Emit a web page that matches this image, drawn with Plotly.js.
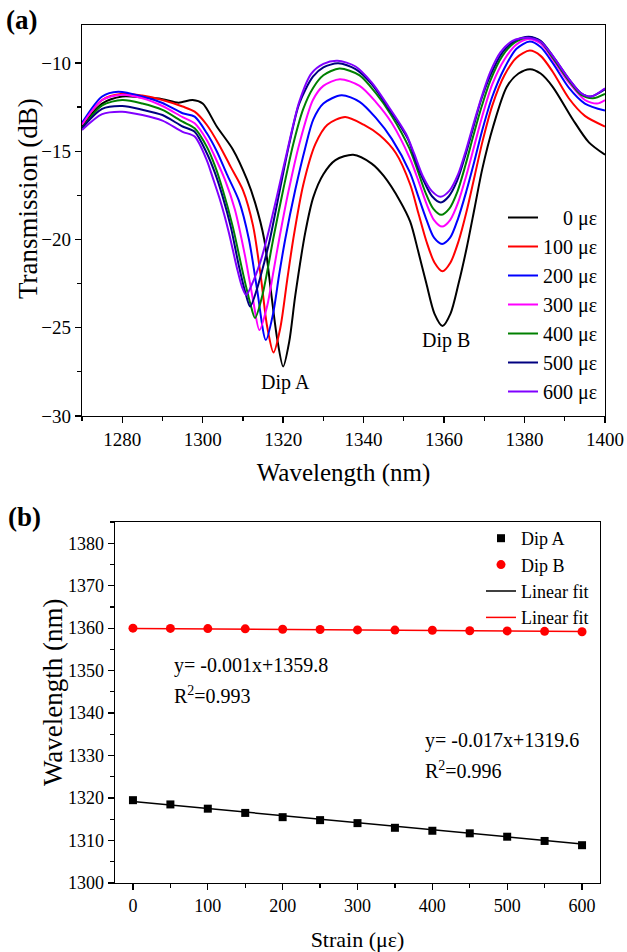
<!DOCTYPE html>
<html>
<head>
<meta charset="utf-8">
<script src="https://cdn.plot.ly/plotly-3.0.1.min.js"></script>
<style>html,body{margin:0;padding:0;background:#fff;}#chart{width:627px;height:952px;}</style>
</head>
<body>
<div id="chart"></div>
<script>
// ---------- Panel (a): transmission spectra ----------
const strainLabels = ["0 με", "100 με", "200 με", "300 με", "400 με", "500 με", "600 με"];
const spectraColors = ["#000000", "#ff0000", "#0000ff", "#ff00ff", "#008000", "#000080", "#8000ff"];

const wl0 = [1270,1275,1280,1285,1290,1294,1297.5,1300,1303.5,1307.5,1311,1313,1315.3,1317,1318.5,1320,1321.5,1323,1325.5,1327.5,1330,1333,1337.4,1342,1345,1349,1351.6,1353.6,1355.6,1357.6,1359.6,1361.6,1363.6,1365.6,1367.6,1369.5,1372.2,1375.6,1378.5,1381.4,1384,1387,1392,1396,1400];
const t0  = [-13.6,-12.3,-11.9,-11.95,-12.05,-12.25,-12.1,-12.3,-13.6,-14.9,-16.6,-17.9,-20.0,-23.0,-25.6,-27.2,-25.8,-23.2,-19.6,-17.6,-16.3,-15.5,-15.2,-15.7,-16.4,-17.8,-19.0,-20.7,-22.5,-24.2,-24.9,-24.2,-22.5,-20.5,-18.2,-16.0,-13.6,-11.35,-10.6,-10.35,-10.6,-11.35,-13.2,-14.5,-15.2];

const wl1 = [1270,1275,1280,1285,1290,1295,1298,1301,1304,1307,1310,1312.5,1314.5,1316,1317.6,1319.3,1321,1322.5,1325,1328,1331,1335.4,1340,1344,1348,1351.6,1353.6,1355.6,1357.6,1359.6,1361.6,1363.6,1365.6,1367.6,1369.6,1372,1375,1378,1381.3,1384,1387,1391,1395,1400];
const t1  = [-13.5,-12.1,-11.75,-11.85,-12.1,-12.47,-12.76,-13.5,-14.6,-15.9,-17.2,-19.2,-22.2,-24.9,-26.4,-25.0,-22.3,-20.0,-16.9,-14.6,-13.5,-13.06,-13.5,-14.1,-15.1,-16.9,-18.5,-20.1,-21.3,-21.8,-21.3,-20.1,-18.4,-16.4,-14.4,-12.4,-10.7,-9.7,-9.3,-9.6,-10.5,-12.0,-13.0,-13.6];

const wl2 = [1270,1275,1279,1285,1290,1295,1298,1301,1303.5,1306,1309,1311.5,1313.5,1315.7,1317.5,1319,1320.5,1323,1325.5,1327.5,1330,1334.5,1339,1343,1347,1351.5,1353.5,1355.5,1357.5,1359.5,1361.5,1363.5,1365.5,1367.5,1369.5,1372,1375,1378,1381.3,1384,1387,1391,1395,1400];
const t2  = [-13.4,-11.9,-11.63,-11.9,-12.27,-12.85,-13.04,-13.97,-15.0,-16.3,-17.8,-20.0,-22.8,-25.7,-24.2,-22.0,-20.0,-17.2,-14.8,-13.2,-12.3,-11.83,-12.2,-13.1,-14.3,-16.2,-17.5,-18.8,-19.9,-20.25,-19.9,-18.8,-17.3,-15.6,-13.8,-11.9,-10.3,-9.2,-8.79,-9.1,-10.0,-11.4,-12.3,-12.7];

const wl3 = [1270,1275,1280,1285,1290,1295,1298,1301,1303,1305.5,1308,1310.5,1312.5,1314.1,1316,1317.6,1319,1321.3,1324,1327.4,1330,1334.1,1339,1343,1347,1351.5,1353.5,1355.5,1357.5,1359.5,1361.5,1363.5,1365.5,1367.5,1369.5,1372,1375,1378,1381,1384,1387,1391,1395,1398,1400];
const t3  = [-13.5,-12.1,-11.8,-12.0,-12.44,-13.07,-13.42,-14.36,-15.3,-16.6,-18.3,-20.9,-23.4,-25.13,-23.8,-21.8,-20.0,-17.3,-14.6,-12.1,-11.3,-10.92,-11.3,-12.2,-13.4,-15.4,-16.6,-17.9,-18.9,-19.27,-18.9,-17.9,-16.4,-14.7,-13.0,-11.2,-9.8,-8.95,-8.64,-8.9,-9.8,-11.1,-12.1,-12.3,-12.1];

const wl4 = [1270,1275,1280,1285,1290,1295,1298,1301,1303,1305,1307.5,1310,1311.8,1313,1314.8,1316.3,1317.5,1320,1322.5,1325,1327.4,1330,1334,1339,1343,1347,1351.3,1353.3,1355.3,1357.3,1359.3,1361.3,1363.3,1365.3,1367.3,1369.3,1371.5,1374.5,1377.5,1381,1384,1387,1391,1394,1397,1400];
const t4  = [-13.7,-12.4,-12.1,-12.3,-12.66,-13.33,-13.7,-14.74,-15.8,-17.2,-19.3,-21.9,-23.6,-24.45,-23.2,-21.5,-20.0,-17.2,-14.6,-12.6,-11.43,-10.7,-10.32,-10.7,-11.7,-13.0,-14.8,-16.0,-17.3,-18.25,-18.6,-18.25,-17.3,-15.8,-14.1,-12.5,-11.0,-9.6,-8.85,-8.55,-8.8,-9.7,-11.0,-11.8,-12.0,-11.75];

const wl5 = [1270,1275,1280,1285,1290,1295,1298,1301,1303,1305,1307,1309,1310.6,1311.8,1313.5,1315.3,1316.7,1319,1321.5,1324,1327.4,1330,1333.7,1338,1342,1346,1351,1353,1355,1357,1359.2,1361.2,1363.2,1365.2,1367.2,1369.2,1371.5,1374.5,1377.5,1381,1384,1387,1391,1394,1396.5,1400];
const t5  = [-13.7,-12.6,-12.44,-12.65,-12.95,-13.6,-13.9,-15.1,-16.2,-17.6,-19.3,-21.5,-23.0,-23.8,-22.8,-21.3,-20.0,-17.4,-14.6,-12.3,-10.78,-10.25,-10.02,-10.35,-11.2,-12.5,-14.3,-15.6,-16.7,-17.55,-17.9,-17.55,-16.7,-15.3,-13.7,-12.1,-10.7,-9.4,-8.75,-8.51,-8.75,-9.6,-10.9,-11.7,-11.9,-11.5];

const wl6 = [1270,1275,1280,1285,1290,1295,1298,1301,1302.5,1304.5,1306.5,1308.5,1309.8,1310.8,1312.5,1314.3,1316,1318.4,1321,1324,1327,1330,1333.5,1338,1342,1346,1350.5,1352.5,1354.7,1356.9,1359.1,1361.3,1363.5,1365.5,1367.5,1369.5,1371.5,1374,1377,1380.7,1384,1387,1391,1394,1396.5,1400];
const t6  = [-13.8,-12.9,-12.76,-12.95,-13.27,-13.9,-14.17,-15.5,-16.5,-17.9,-19.6,-21.6,-22.7,-23.15,-22.4,-21.3,-19.9,-17.6,-15.0,-12.2,-10.6,-10.05,-9.87,-10.2,-11.1,-12.4,-14.0,-15.1,-16.4,-17.25,-17.58,-17.25,-16.3,-14.9,-13.3,-11.8,-10.5,-9.4,-8.75,-8.57,-8.8,-9.6,-10.9,-11.7,-11.9,-11.43];

const spectraX = [wl0, wl1, wl2, wl3, wl4, wl5, wl6];
const spectraY = [t0, t1, t2, t3, t4, t5, t6];

// ---------- Panel (b): dip wavelength vs strain ----------
const strain = [0,50,100,150,200,250,300,350,400,450,500,550,600];
const dipA = [1319.5,1318.5,1317.5,1316.5,1315.5,1314.8,1314.1,1313.0,1312.3,1311.7,1310.9,1309.9,1308.9];
const dipB = [1360.0,1359.95,1359.9,1359.85,1359.75,1359.7,1359.6,1359.55,1359.5,1359.4,1359.35,1359.25,1359.15];
const fitX = [0, 600];
const fitA = [1319.2, 1309.2];
const fitB = [1359.95, 1359.2];

const serif = "Liberation Serif, Times New Roman, serif";
const W = 627, H = 952;
const traces = [];

for (let i = 0; i < spectraX.length; i++) {
  const pad = strainLabels[i].length < 5 ? "\u00A0\u00A0\u00A0\u00A0" : "";
  traces.push({
    x: spectraX[i], y: spectraY[i], type: "scatter", mode: "lines",
    name: pad + strainLabels[i],
    line: {color: spectraColors[i], width: 2, shape: "spline", smoothing: 0.8},
    xaxis: "x", yaxis: "y", legend: "legend"
  });
}

traces.push({x: strain, y: dipA, type: "scatter", mode: "markers", name: "Dip A",
  marker: {symbol: "square", size: 8, color: "#000000"}, xaxis: "x2", yaxis: "y2", legend: "legend2"});
traces.push({x: strain, y: dipB, type: "scatter", mode: "markers", name: "Dip B",
  marker: {symbol: "circle", size: 9, color: "#ff0000"}, xaxis: "x2", yaxis: "y2", legend: "legend2"});
traces.push({x: fitX, y: fitA, type: "scatter", mode: "lines", name: "Linear fit",
  line: {color: "#000000", width: 1.5}, xaxis: "x2", yaxis: "y2", legend: "legend2"});
traces.push({x: fitX, y: fitB, type: "scatter", mode: "lines", name: "Linear fit",
  line: {color: "#ff0000", width: 1.5}, xaxis: "x2", yaxis: "y2", legend: "legend2"});

function px2x(p) { return p / W; }
function px2y(p) { return 1 - p / H; }

const axisCommon = {
  showline: true, linecolor: "#000", linewidth: 1.3, mirror: true,
  ticks: "outside", ticklen: 6, tickwidth: 1.3, tickcolor: "#000",
  showgrid: false, zeroline: false, automargin: false,
  tickfont: {family: serif, size: 19, color: "#000"}
};

const layout = {
  width: W, height: H,
  margin: {l: 0, r: 0, t: 0, b: 0},
  paper_bgcolor: "#fff", plot_bgcolor: "#fff",
  font: {family: serif, color: "#000"},
  showlegend: true,
  xaxis: Object.assign({}, axisCommon, {
    domain: [px2x(82), px2x(605)], anchor: "y",
    range: [1270, 1400], tickvals: [1280,1300,1320,1340,1360,1380,1400],
    minor: {dtick: 10, tick0: 1270, ticks: "outside", ticklen: 3.5, tickcolor: "#000", tickwidth: 1.2},
    title: {text: "Wavelength (nm)", font: {family: serif, size: 25, color: "#000"}, standoff: 14}
  }),
  yaxis: Object.assign({}, axisCommon, {
    domain: [px2y(416), px2y(25)], anchor: "x",
    range: [-30, -7.85], tickvals: [-30,-25,-20,-15,-10],
    minor: {dtick: 2.5, tick0: -30, ticks: "outside", ticklen: 3.5, tickcolor: "#000", tickwidth: 1.2}
  }),
  xaxis2: Object.assign({}, axisCommon, {
    domain: [px2x(115), px2x(600)], anchor: "y2",
    range: [-24, 624], tickvals: [0,100,200,300,400,500,600],
    tickfont: {family: serif, size: 18, color: "#000"},
    minor: {dtick: 50, tick0: 0, ticks: "outside", ticklen: 3.5, tickcolor: "#000", tickwidth: 1.2},
    title: {text: "Strain (με)", font: {family: serif, size: 22, color: "#000"}, standoff: 18}
  }),
  yaxis2: Object.assign({}, axisCommon, {
    domain: [px2y(883), px2y(522)], anchor: "x2",
    range: [1300, 1385], tickvals: [1300,1310,1320,1330,1340,1350,1360,1370,1380],
    tickfont: {family: serif, size: 18, color: "#000"},
    minor: {dtick: 5, tick0: 1300, ticks: "outside", ticklen: 3.5, tickcolor: "#000", tickwidth: 1.2}
  }),
  legend: {
    x: px2x(603), xanchor: "right", y: px2y(198), yanchor: "top",
    bgcolor: "rgba(0,0,0,0)", borderwidth: 0,
    font: {family: serif, size: 20, color: "#000"}, itemwidth: 30
  },
  legend2: {
    x: px2x(594), xanchor: "right", y: px2y(520), yanchor: "top",
    bgcolor: "rgba(0,0,0,0)", borderwidth: 0,
    font: {family: serif, size: 18, color: "#000"}, itemwidth: 30
  },
  annotations: [
    {text: "<b>(a)</b>", xref: "paper", yref: "paper", x: px2x(4), y: px2y(20), xanchor: "left", yanchor: "middle",
     showarrow: false, font: {family: serif, size: 27, color: "#000"}},
    {text: "<b>(b)</b>", xref: "paper", yref: "paper", x: px2x(6), y: px2y(517), xanchor: "left", yanchor: "middle",
     showarrow: false, font: {family: serif, size: 27, color: "#000"}},
    {text: "Transmission (dB)", xref: "paper", yref: "paper", x: px2x(28), y: px2y(199), xanchor: "center", yanchor: "middle",
     textangle: -90, showarrow: false, font: {family: serif, size: 27, color: "#000"}},
    {text: "Wavelength (nm)", xref: "paper", yref: "paper", x: px2x(53), y: px2y(692), xanchor: "center", yanchor: "middle",
     textangle: -90, showarrow: false, font: {family: serif, size: 27, color: "#000"}},
    {text: "Dip A", xref: "x", yref: "y", x: 1320.5, y: -28.13, xanchor: "center", yanchor: "middle",
     showarrow: false, font: {family: serif, size: 20, color: "#000"}},
    {text: "Dip B", xref: "x", yref: "y", x: 1360.5, y: -25.75, xanchor: "center", yanchor: "middle",
     showarrow: false, font: {family: serif, size: 20, color: "#000"}},
    {text: "y= -0.001x+1359.8", xref: "x2", yref: "y2", x: 52, y: 1351.3, xanchor: "left", yanchor: "middle",
     showarrow: false, font: {family: serif, size: 20, color: "#000"}},
    {text: "R<sup>2</sup>=0.993", xref: "x2", yref: "y2", x: 52, y: 1344.2, xanchor: "left", yanchor: "middle",
     showarrow: false, font: {family: serif, size: 20, color: "#000"}},
    {text: "y= -0.017x+1319.6", xref: "x2", yref: "y2", x: 387, y: 1333.6, xanchor: "left", yanchor: "middle",
     showarrow: false, font: {family: serif, size: 20, color: "#000"}},
    {text: "R<sup>2</sup>=0.996", xref: "x2", yref: "y2", x: 387, y: 1326.6, xanchor: "left", yanchor: "middle",
     showarrow: false, font: {family: serif, size: 20, color: "#000"}}
  ]
};

Plotly.newPlot("chart", traces, layout, {staticPlot: true, displayModeBar: false});
</script>
</body>
</html>
